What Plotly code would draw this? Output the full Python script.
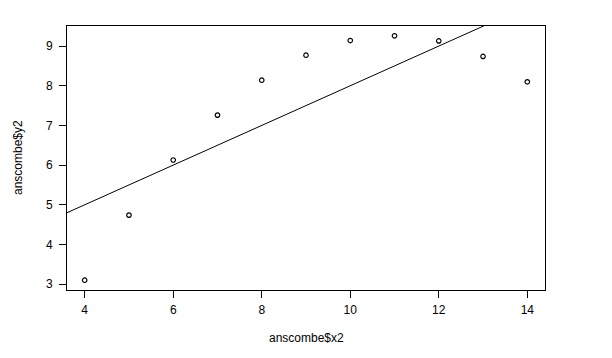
import numpy as np
import plotly.graph_objects as go

x2 = [10, 8, 13, 9, 11, 14, 6, 4, 12, 7, 5]
y2 = [9.14, 8.14, 8.74, 8.77, 9.26, 8.10, 6.13, 3.10, 9.13, 7.26, 4.74]
x_ticks = [4, 6, 8, 10, 12, 14]
y_ticks = [3, 4, 5, 6, 7, 8, 9]

slope, intercept = np.polyfit(x2, y2, 1)

xmin, xmax = min(x2), max(x2)
ymin, ymax = min(y2), max(y2)
xpad = (xmax - xmin) * 0.04
ypad = (ymax - ymin) * 0.04
xr = [xmin - xpad, xmax + xpad]
yr = [ymin - ypad, ymax + ypad]

fig = go.Figure()
fig.add_trace(go.Scatter(
    x=x2, y=y2, mode="markers",
    marker=dict(symbol="circle-open", size=4.5, color="black", line=dict(width=1.2, color="black")),
    showlegend=False, cliponaxis=True,
))
lx = [xr[0], xr[1]]
ly = [intercept + slope * v for v in lx]
fig.add_trace(go.Scatter(
    x=lx, y=ly, mode="lines", line=dict(color="black", width=1),
    showlegend=False,
))

font = dict(family="Liberation Sans, Arial, sans-serif", size=12, color="black")
W, H = 612, 358
ml, mr, mt, mb = 67, 67, 26, 67.5
fig.update_layout(
    width=W, height=H,
    margin=dict(l=ml, r=mr, t=mt, b=mb),
    paper_bgcolor="white", plot_bgcolor="white",
    font=font,
    xaxis=dict(range=xr, tickvals=x_ticks, ticks="outside", ticklen=7, tickwidth=1,
               tickcolor="black", showgrid=False, zeroline=False, showline=True,
               linecolor="black", linewidth=1, mirror=True, tickfont=font,
               ticklabelstandoff=2),
    yaxis=dict(range=yr, tickvals=y_ticks, ticks="outside", ticklen=7, tickwidth=1,
               tickcolor="black", showgrid=False, zeroline=False, showline=True,
               linecolor="black", linewidth=1, mirror=True, tickfont=font,
               ticklabelstandoff=4),
)
ph = H - mt - mb
pw = W - ml - mr
fig.add_annotation(text="anscombe$x2", xref="paper", yref="paper",
                   x=0.5, y=-(339 - (H - mb)) / ph, xanchor="center", yanchor="middle",
                   showarrow=False, font=font)
fig.add_annotation(text="anscombe$y2", xref="paper", yref="paper",
                   x=(18 - ml) / pw, y=0.5, xanchor="center", yanchor="middle",
                   textangle=-90, showarrow=False, font=font)

fig.write_html("out.html")
